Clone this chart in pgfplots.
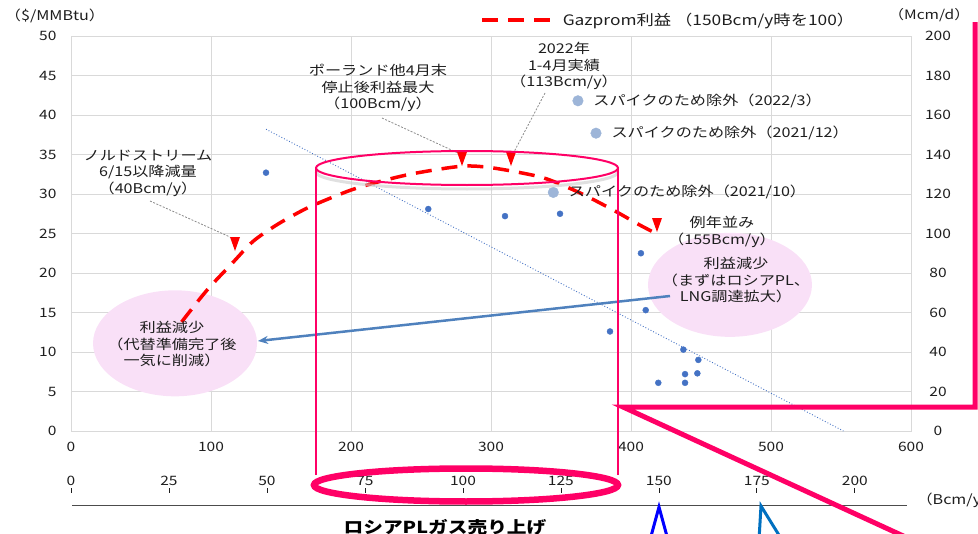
\documentclass[border=0pt]{standalone}
\usepackage{pgfplots}
\pgfplotsset{compat=1.18}
\usetikzlibrary{arrows.meta}
\usepackage{fontspec}
\setmainfont{Noto Sans CJK JP}[FakeStretch=1.2]
\definecolor{pinkline}{RGB}{255,0,102}
\definecolor{ellfill}{RGB}{249,224,247}
\definecolor{ptblue}{RGB}{68,114,196}
\definecolor{lightpt}{RGB}{157,181,216}
\definecolor{arrblue}{RGB}{79,129,189}
\definecolor{gridc}{RGB}{217,217,217}
\definecolor{txt}{RGB}{30,30,30}
\definecolor{darkblue}{RGB}{0,0,255}
\definecolor{midblue}{RGB}{0,112,192}
\newcommand\jf{\fontsize{13.5}{16.5}\selectfont}

\pgfplotstableread{
x y
139.3 32.7
255.2 28.1
310.0 27.2
349.3 27.5
407.1 22.5
410.5 15.3
385.0 12.6
437.4 10.3
448.1 9.0
438.6 7.2
447.4 7.3
419.5 6.1
438.6 6.1
}\pts

\pgfplotstableread{
x y
344.5 30.2
362.1 41.8
375.0 37.7
}\spikes

\pgfplotstableread{
x y
79 13.8
97 17.8
116 21.4
130 24.0
147 26.1
164 27.8
176 28.8
200 30.5
221 31.6
245 32.6
278 33.5
297 33.4
321 32.7
340 31.9
364 30.1
387 28.0
406 26.1
418 25.0
}\profit

\begin{document}
\begin{tikzpicture}
\path[use as bounding box] (0,0) rectangle (978bp,-534bp);
% main axis
\begin{axis}[
  at={(71bp,-431bp)}, anchor=south west, scale only axis,
  width=840bp, height=395bp,
  xmin=0, xmax=600, ymin=0, ymax=50,
  xtick={0,100,...,600}, ytick={0,5,...,50},
  grid=major, major grid style={gridc, line width=0.9bp},
  axis line style={gridc, line width=0.9bp},
  tick style={draw=none},
  ticklabel style={font=\fontsize{13}{15}\selectfont, text=txt},
  /pgf/number format/assume math mode=true,
  yticklabel style={xshift=-11bp},
  xticklabel style={yshift=-8bp},
  clip=false,
  legend style={at={(0.487,1.0405)}, anchor=west, draw=none, fill=none,
     font=\fontsize{14.5}{16.5}\selectfont, inner sep=0pt, text=txt,
     nodes={inner sep=4bp}},
  legend image code/.code={\draw[#1] (0bp,0bp) -- (75bp,0bp);},
]
\fill[ellfill] (axis cs:74.3,11.1) ellipse [x radius=82bp, y radius=53bp];
\fill[ellfill] (axis cs:470.7,18.5) ellipse [x radius=82bp, y radius=52bp];
\addplot[ptblue, dotted, line width=0.9bp, forget plot] coordinates {(139.3,38.2) (551.7,0)};
\addplot[only marks, mark=*, mark size=3bp, ptblue, forget plot] table {\pts};
\addplot[only marks, mark=*, mark size=5.3bp, lightpt, forget plot] table {\spikes};
\addplot[red, line width=3.5bp, dash pattern=on 16bp off 10bp, smooth] table {\profit};
\addlegendentry{Gazprom利益 （150Bcm/y時を100）}
\node[anchor=west, xshift=12bp, font=\jf, text=txt] at (axis cs:362.1,41.8) {スパイクのため除外（2022/3）};
\node[anchor=west, xshift=12bp, font=\jf, text=txt] at (axis cs:375.0,37.7) {スパイクのため除外（2021/12）};
\node[anchor=west, xshift=12bp, font=\jf, text=txt] at (axis cs:344.5,30.2) {スパイクのため除外（2021/10）};
\end{axis}
% right axis
\begin{axis}[
  at={(71bp,-431bp)}, anchor=south west, scale only axis,
  width=840bp, height=395bp,
  xmin=0, xmax=600, ymin=0, ymax=200,
  ytick={0,20,...,200},
  axis y line*=right, hide x axis,
  axis line style={draw=none}, tick style={draw=none},
  ticklabel style={font=\fontsize{13}{15}\selectfont, text=txt},
  /pgf/number format/assume math mode=true,
  yticklabel style={anchor=center, xshift=27bp},
]
\end{axis}
% Bcm/y axis
\begin{axis}[
  at={(71bp,-488bp)}, anchor=north west, scale only axis,
  width=836bp, height=1bp,
  xmin=0, xmax=213.3, ymin=0, ymax=1,
  xtick={0,25,...,200},
  axis x line*=top, hide y axis,
  axis line style={draw=none},
  tick align=inside, major tick length=5bp,
  xtick style={draw=txt, line width=0.8bp},
  ticklabel style={font=\fontsize{13}{15}\selectfont, text=txt},
  /pgf/number format/assume math mode=true,
  xticklabel style={yshift=-1bp},
]
\end{axis}
\begin{scope}[x=1bp, y=-1bp]
  % axis titles
  \node[font=\jf, text=txt] at (55,16) {（\$/MMBtu）};
  \node[font=\fontsize{13}{15}\selectfont, text=txt, anchor=east, inner sep=1bp] at (971,15) {（Mcm/d）};
  % bottom line
  \draw[black!70, line width=1bp] (72,505.5) -- (907,505.5);
  \node[font=\jf, text=txt, anchor=west] at (913,500) {（Bcm/y）};
  \node[font=\fontsize{16.5}{18}\selectfont\bfseries] at (445,527) {ロシアPLガス売り上げ};
  % annotations
  \node[font=\jf, text=txt, align=center] at (148,173) {ノルドストリーム\\6/15以降減量\\（40Bcm/y）};
  \node[font=\jf, text=txt, align=center] at (378,88) {ポーランド他4月末\\停止後利益最大\\（100Bcm/y）};
  \node[font=\jf, text=txt, align=center] at (564,66) {2022年\\1-4月実績\\（113Bcm/y）};
  \node[font=\jf, text=txt, align=center] at (722,232) {例年並み\\（155Bcm/y）};
  \node[font=\jf, text=txt, align=center] at (736,280) {利益減少\\（まずはロシアPL、\\LNG調達拡大）};
  \node[font=\jf, text=txt, align=center] at (172,344) {利益減少\\（代替準備完了後\\一気に削減）};
  % gray leader lines
  \draw[black!45, dash pattern=on 2bp off 1.5bp, line width=0.8bp] (150,201) -- (230,237);
  \draw[black!45, dash pattern=on 2bp off 1.5bp, line width=0.8bp] (382,118) -- (458,153);
  \draw[black!45, dash pattern=on 2bp off 1.5bp, line width=0.8bp] (545,93) -- (514,152);
  % red arrowheads
  \fill[red] (230,237) -- (240,237) -- (235,251) -- cycle;
  \fill[red] (457,152) -- (467,152) -- (462,166) -- cycle;
  \fill[red] (506,152) -- (516,152) -- (511,166) -- cycle;
  \fill[red] (652,218) -- (662,218) -- (657,232) -- cycle;
  % blue arrow
  \draw[arrblue, line width=2.5bp, -{Stealth[length=10bp,width=8bp]}] (670,296) -- (258,341);
  % cylinder
  \draw[black!20, line width=3bp, opacity=0.6] (316,172) arc[start angle=180, end angle=360, x radius=151bp, y radius=17bp];
  \draw[pinkline, line width=2bp] (467,168) ellipse [x radius=151bp, y radius=17bp];
  \draw[pinkline, line width=2.5bp] (316,168) -- (316,475);
  \draw[pinkline, line width=2.5bp] (618,168) -- (618,475);
  \draw[pinkline, line width=6.5bp] (466,485) ellipse [x radius=152bp, y radius=16.5bp];
  % right callout
  \draw[pinkline, line width=5bp, line join=miter] (975,22) -- (975,407) -- (623,407) -- (912,540);
  % bottom arrows
  \draw[darkblue, line width=3bp] (650,540) -- (659,507) -- (668,540);
  \draw[midblue, line width=3bp] (759,540) -- (761,506) -- (782,540);
\end{scope}
\end{tikzpicture}
\end{document}
